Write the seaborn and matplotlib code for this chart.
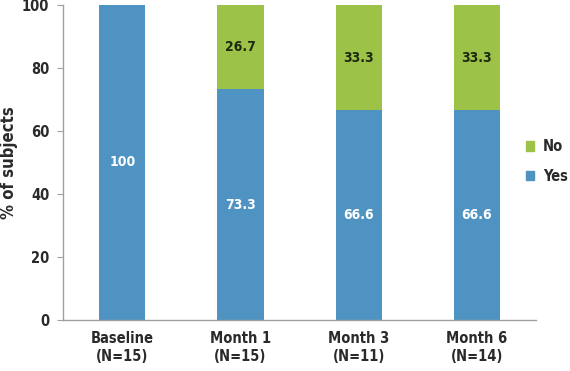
import matplotlib
matplotlib.use("Agg")
import matplotlib.pyplot as plt
import seaborn as sns
import pandas as pd
from matplotlib.patches import Patch
from matplotlib.ticker import FixedLocator

categories = ["Baseline\n(N=15)", "Month 1\n(N=15)", "Month 3\n(N=11)", "Month 6\n(N=14)"]
yes_pct = [100, 73.3, 66.6, 66.6]
no_pct = [0, 26.7, 33.3, 33.3]

BLUE = "#4f93c3"
GREEN = "#9cc348"
GREY = "#a0a0a0"
TXT = "#2a2a2a"

sns.set_style("white")
plt.rcParams["font.family"] = ["DejaVu Sans"]
plt.rcParams["font.stretch"] = "condensed"
plt.rcParams["font.weight"] = "bold"

df = pd.DataFrame({"period": categories, "yes": yes_pct, "no": no_pct})
df["total"] = df["yes"] + df["no"]

fig = plt.figure(figsize=(5.7, 3.71), dpi=100)
ax = fig.add_axes([0.111, 0.137, 0.829, 0.850])

# stacked: total in green, yes overlaid in blue
sns.barplot(data=df, x="period", y="total", color=GREEN, width=0.39,
            saturation=1, linewidth=0, ax=ax)
sns.barplot(data=df, x="period", y="yes", color=BLUE, width=0.39,
            saturation=1, linewidth=0, ax=ax)

for i, row in df.iterrows():
    ax.text(i, row["yes"] / 2, f"{row['yes']:g}", color="white", ha="center",
            va="center", fontsize=10)
    if row["no"] > 0:
        ax.text(i, row["yes"] + row["no"] / 2, f"{row['no']:g}", color="#1f2a10",
                ha="center", va="center", fontsize=10)

ax.set_xlim(-0.5, len(categories) - 0.5)
ax.set_ylim(0, 100)
ax.set_yticks([0, 20, 40, 60, 80, 100])
ax.set_xlabel("")
ax.set_ylabel("% of subjects", fontsize=12, color=TXT, fontweight="bold")
ax.yaxis.set_label_coords(-0.095, 0.5)

ax.tick_params(axis="x", which="major", length=0, labelsize=10.5, pad=8,
               labelcolor=TXT)
ax.xaxis.set_minor_locator(FixedLocator([i - 0.5 for i in range(len(categories) + 1)]))
ax.tick_params(axis="x", which="minor", length=4, color=GREY, direction="out")
ax.tick_params(axis="y", length=4, color=GREY, direction="out", labelsize=10.5,
               labelcolor=TXT, left=True, pad=6)

sns.despine(ax=ax)
for side in ["left", "bottom"]:
    ax.spines[side].set_color(GREY)
    ax.spines[side].set_linewidth(1)

handles = [Patch(color=GREEN, label="No"), Patch(color=BLUE, label="Yes")]
fig.legend(handles=handles, loc="center left", bbox_to_anchor=(0.922, 0.565),
           frameon=False, fontsize=10.5, handlelength=0.6, handleheight=0.6,
           handletextpad=0.6, labelspacing=1.0, borderaxespad=0, borderpad=0,
           labelcolor=TXT)

fig.savefig("out.png", dpi=100)
